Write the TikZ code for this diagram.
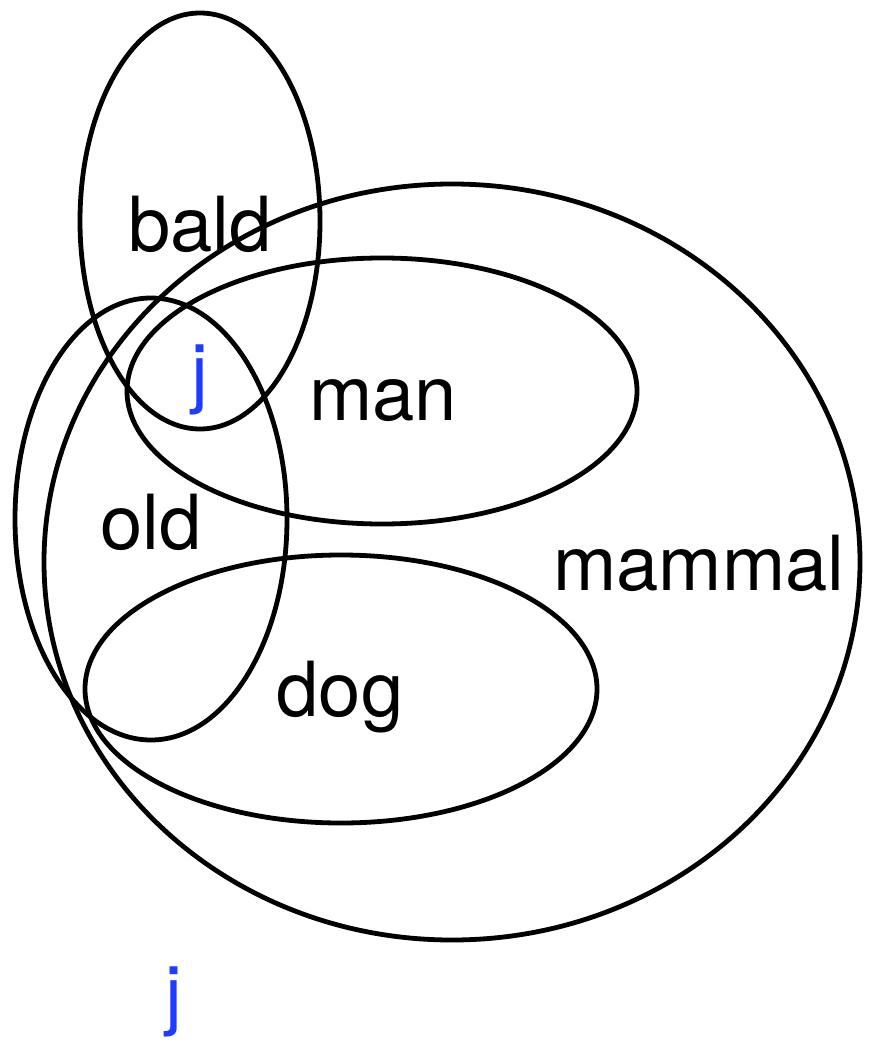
\documentclass[tikz,border=0pt]{standalone}
\usepackage{fontspec}
\setmainfont{TeX Gyre Heros}
\usetikzlibrary{shapes.geometric}
\begin{document}
\begin{tikzpicture}[x=1pt,y=-1pt,
  setshape/.style={draw=black,line width=4.8pt,ellipse,inner sep=0pt},
  lab/.style={font=\fontsize{76}{80}\selectfont,text=black,inner sep=0pt,anchor=base},
  jlab/.style={font=\fontsize{76}{80}\selectfont,text={rgb,255:red,30;green,60;blue,255},inner sep=0pt,anchor=base}]
\useasboundingbox (0,0) rectangle (875,1048);
\node[setshape,minimum width=240pt,minimum height=416pt] (bald) at (200,221) {};
\node[setshape,minimum width=816pt,minimum height=756pt] (mammal) at (452,562) {};
\node[setshape,minimum width=510pt,minimum height=266pt] (man) at (382,391) {};
\node[setshape,minimum width=272pt,minimum height=442pt] (old) at (151,519) {};
\node[setshape,minimum width=512pt,minimum height=268pt] (dog) at (341,689) {};
\node[lab] (tbald) at (200,252) {bald};
\node[lab] (tman) at (383,420) {man};
\node[lab] (told) at (151,549) {old};
\node[lab] (tdog) at (340,716) {dog};
\node[lab] (tmammal) at (699,590) {mammal};
\node[jlab] (j1) at (200,398) {j};
\node[jlab] (j2) at (174,1020) {j};
\end{tikzpicture}
\end{document}
